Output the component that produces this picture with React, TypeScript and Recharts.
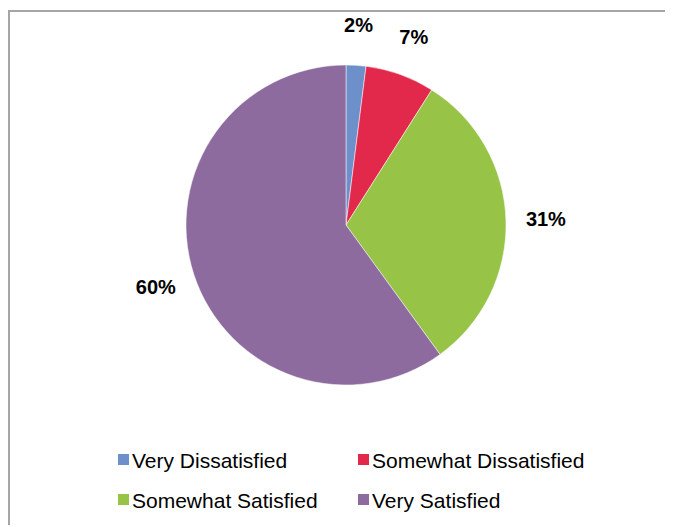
import { PieChart, Pie, Cell, Legend } from 'recharts'

const categories = ['Very Dissatisfied', 'Somewhat Dissatisfied', 'Somewhat Satisfied', 'Very Satisfied']
const shares = [2, 7, 31, 60]
const colors = ['#6D90CB', '#E2294B', '#97C346', '#8E6B9F']

const data = categories.map((name, i) => ({ name, value: shares[i] }))

const RADIAN = Math.PI / 180
const FONT = '"Liberation Sans", Arial, sans-serif'

function renderLabel(props: any) {
  const { cx, cy, midAngle, outerRadius, value } = props
  const r = outerRadius + 40
  const x = cx + r * Math.cos(-midAngle * RADIAN)
  const y = cy + r * Math.sin(-midAngle * RADIAN)
  return (
    <text
      x={x}
      y={y}
      textAnchor="middle"
      dominantBaseline="central"
      fill="#000"
      fontFamily={FONT}
      fontWeight="bold"
      fontSize={20}
    >
      {`${value}%`}
    </text>
  )
}

// legend drawn from our own arrays so the order stays as in the source
function renderLegend() {
  return (
    <div
      style={{
        display: 'grid',
        gridTemplateColumns: '240px 260px',
        rowGap: 16,
        fontFamily: FONT,
        fontSize: 21,
        color: '#000',
      }}
    >
      {categories.map((name, i) => (
        <div key={name} style={{ display: 'flex', alignItems: 'flex-start', lineHeight: '24px', whiteSpace: 'nowrap' }}>
          <span
            style={{
              display: 'inline-block',
              flexShrink: 0,
              width: 11,
              height: 11,
              marginTop: 5,
              marginRight: 3,
              background: colors[i],
            }}
          />
          <span>{name}</span>
        </div>
      ))}
    </div>
  )
}

export default function App() {
  return (
    <div
      style={{
        position: 'relative',
        top: 2,
        width: 663,
        height: 515,
        borderTop: '2px solid #A5A5A5',
        borderLeft: '2px solid #A5A5A5',
        background: '#fff',
      }}
    >
      <PieChart width={663} height={515} margin={{ top: 0, right: 0, bottom: 0, left: 0 }}>
        <Pie
          data={data}
          dataKey="value"
          nameKey="name"
          cx={336}
          cy={213}
          outerRadius={160}
          startAngle={90}
          endAngle={-270}
          stroke="#ffffff"
          strokeWidth={0.5}
          label={renderLabel}
          labelLine={false}
          isAnimationActive={false}
        >
          {data.map((d, i) => (
            <Cell key={d.name} fill={colors[i]} />
          ))}
        </Pie>
        <Legend
          content={renderLegend}
          wrapperStyle={{ position: 'absolute', left: 108, top: 437, width: 520 }}
        />
      </PieChart>
    </div>
  )
}
